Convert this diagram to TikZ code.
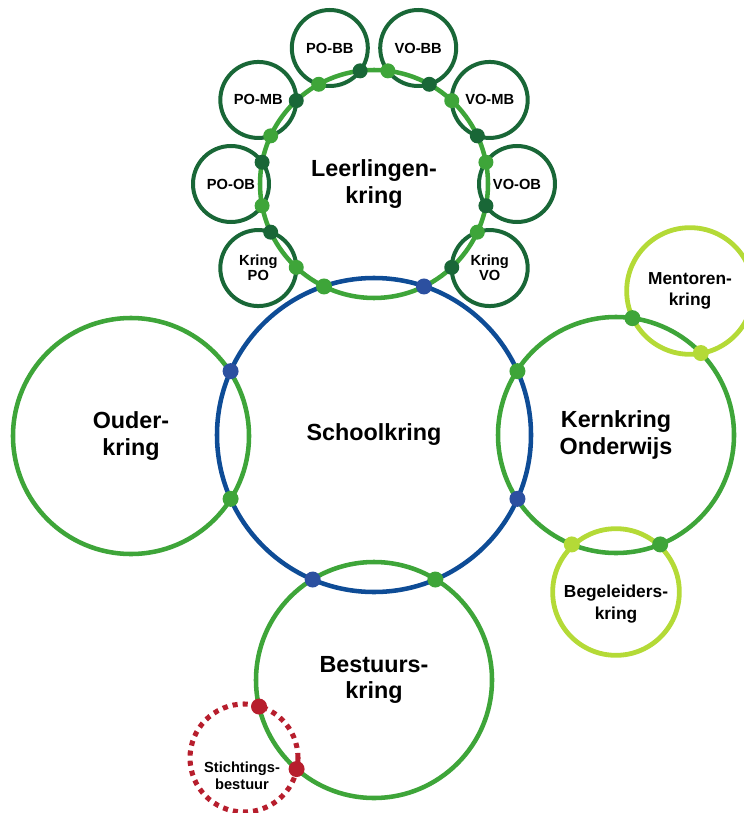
\documentclass[tikz,border=0pt]{standalone}
\usepackage{fontspec}
\setmainfont{Liberation Sans}
\definecolor{ringblue}{RGB}{14,76,150}
\definecolor{dotblue}{RGB}{44,80,160}
\definecolor{ringgreen}{RGB}{62,165,57}
\definecolor{ringdark}{RGB}{25,103,55}
\definecolor{ringlight}{RGB}{180,218,55}
\definecolor{ringred}{RGB}{183,30,45}

\begin{document}
\begin{tikzpicture}[x=0.75pt, y=0.75pt,
  ring/.style={draw, circle, outer sep=0pt, inner sep=0pt, line width=3.4pt, align=center, font=\bfseries\fontsize{17.5}{20}\selectfont},
  bigring/.style={ring, draw=ringgreen, minimum size=177pt},
  smallring/.style={ring, draw=ringdark, line width=3pt, minimum size=57pt, font=\bfseries\fontsize{11}{11.5}\selectfont},
  sidering/.style={ring, draw=ringlight, line width=3.6pt, minimum size=95pt, font=\bfseries\fontsize{13}{15.5}\selectfont},
  sidetext/.style={align=center, inner sep=0pt, font=\bfseries\fontsize{13}{16}\selectfont},
  bluedot/.style={fill=dotblue},
  greendot/.style={fill=ringgreen},
  darkdot/.style={fill=ringdark},
  lightdot/.style={fill=ringlight},
  reddot/.style={fill=ringred}]
\useasboundingbox (0,0) rectangle (743,-813);

% Main circles
\node[ring, draw=ringblue, minimum size=235.5pt] (school) at (374,-435) {Schoolkring};
\node[ring, draw=ringgreen, minimum size=171pt] (leer) at (374,-184) {Leerlingen-\\kring};
\node[bigring] (ouder) at (131,-436) {Ouder-\\kring};
\node[bigring] (kern) at (616,-435) {Kernkring\\Onderwijs};
\node[bigring] (bestuur) at (374,-680) {Bestuurs-\\kring};

% Side circles
\node[sidering] (mentoren) at (690,-291) {Mentoren-\\kring};
\node[sidering] (begeleiders) at (616,-592) {};
\node[sidetext] (begeleiderstxt) at ([yshift=-9pt]begeleiders) {Begeleiders-\\kring};
\node[ring, draw=ringred, line width=3.8pt, dash pattern=on 3.8pt off 3.8pt, minimum size=81pt] (stichting) at (244,-758) {};
\node[sidetext, font=\bfseries\fontsize{11}{12.5}\selectfont] (stichtingtxt) at ([shift={(-1.5pt,-13.5pt)}]stichting) {Stichtings-\\bestuur};

% Small circles round the Leerlingenkring
\node[smallring] (pobb) at ([shift={(108:143)}]leer) {PO-BB};
\node[smallring] (pomb) at ([shift={(144:143)}]leer) {PO-MB};
\node[smallring] (poob) at ([shift={(180:143)}]leer) {PO-OB};
\node[smallring] (kringpo) at ([shift={(216:143)}]leer) {Kring\\PO};
\node[smallring] (vobb) at ([shift={(72:143)}]leer) {VO-BB};
\node[smallring] (vomb) at ([shift={(36:143)}]leer) {VO-MB};
\node[smallring] (voob) at ([shift={(0:143)}]leer) {VO-OB};
\node[smallring] (kringvo) at ([shift={(324:143)}]leer) {Kring\\VO};

% Dots where the circles cross
\fill[greendot] (leer.244) circle (8);
\fill[bluedot] (leer.296) circle (8);
\fill[bluedot] (school.156) circle (8);
\fill[greendot] (school.204) circle (8);
\fill[greendot] (school.24) circle (8);
\fill[bluedot] (school.336) circle (8);
\fill[bluedot] (school.247) circle (8);
\fill[greendot] (school.293) circle (8);
\fill[greendot] (kern.82) circle (8);
\fill[lightdot] (kern.44) circle (8);
\fill[lightdot] (kern.248) circle (8);
\fill[greendot] (kern.292) circle (8);
\fill[reddot] (bestuur.193) circle (8);
\fill[reddot] (bestuur.229) circle (8);

\fill[darkdot] (leer.97) circle (7.5);
\fill[greendot] (leer.119) circle (7.5);
\fill[darkdot] (leer.133) circle (7.5);
\fill[greendot] (leer.155) circle (7.5);
\fill[darkdot] (leer.169) circle (7.5);
\fill[greendot] (leer.191) circle (7.5);
\fill[darkdot] (leer.205) circle (7.5);
\fill[greendot] (leer.227) circle (7.5);
\fill[darkdot] (leer.61) circle (7.5);
\fill[greendot] (leer.83) circle (7.5);
\fill[darkdot] (leer.25) circle (7.5);
\fill[greendot] (leer.47) circle (7.5);
\fill[darkdot] (leer.349) circle (7.5);
\fill[greendot] (leer.11) circle (7.5);
\fill[darkdot] (leer.313) circle (7.5);
\fill[greendot] (leer.335) circle (7.5);
\end{tikzpicture}
\end{document}
